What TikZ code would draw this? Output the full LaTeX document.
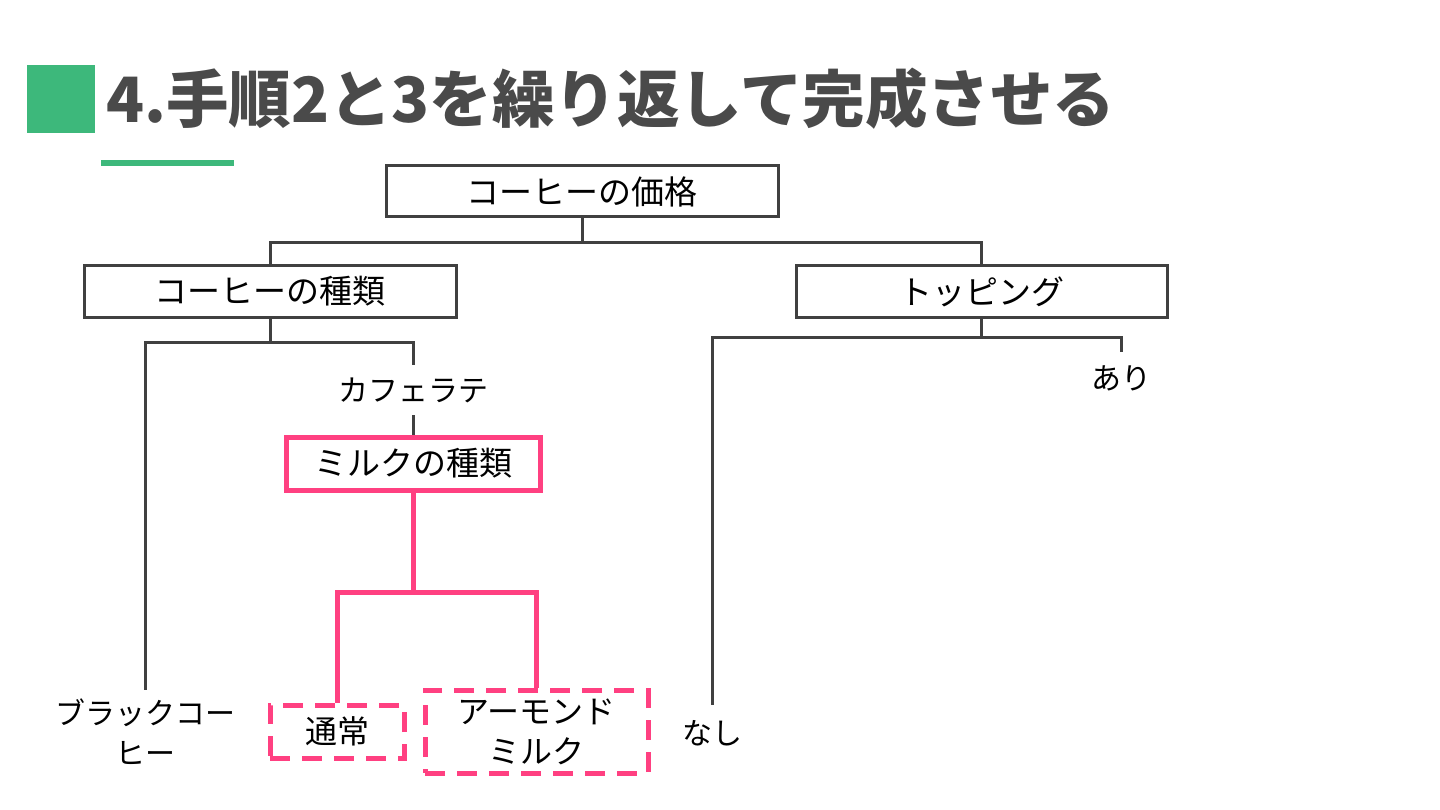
\documentclass[tikz,border=0pt]{standalone}
\usepackage{fontspec}
\setmainfont{Noto Sans CJK JP}
\definecolor{lgray}{HTML}{404040}
\definecolor{tgray}{HTML}{4A4A4A}
\definecolor{mpink}{HTML}{FF4081}
\definecolor{mgreen}{HTML}{3DB87B}
\tikzset{
  graybox/.style={draw=lgray,line width=3pt,rectangle,inner sep=0pt,font=\fontsize{33}{38}\selectfont,minimum height=51},
  pinkbox/.style={draw=mpink,line width=5pt,rectangle,inner sep=0pt,font=\fontsize{33}{38}\selectfont,minimum height=53},
  dashbox/.style={draw=mpink,line width=5pt,dash pattern=on 20pt off 12pt,rectangle,inner sep=0pt,font=\fontsize{32}{40}\selectfont,align=center},
  leaf/.style={inner sep=0pt,font=\fontsize{30}{40}\selectfont,align=center},
  gline/.style={draw=lgray,line width=3pt},
  pline/.style={draw=mpink,line width=5pt}
}
\begin{document}
\begin{tikzpicture}[x=1pt,y=-1pt]
\useasboundingbox[fill=white] (0,0) rectangle (1440,810);
% title
\fill[mgreen] (27,65) rectangle (95,133);
\fill[mgreen] (101,160) rectangle (234,166);
\node[anchor=west,inner sep=0pt,text=tgray,font=\fontsize{62.5}{70}\selectfont\bfseries] (title) at (106,99) {4.手順2と3を繰り返して完成させる};
% boxes
\node[graybox,minimum width=392] (top) at (582,191.5) {コーヒーの価格};
\node[graybox,minimum width=372] (kind) at (270,291.5) {コーヒーの種類};
\node[graybox,minimum width=371] (topping) at (981.5,291.5) {トッピング};
\node[leaf,minimum height=50] (cafe) at (413.5,390) {カフェラテ};
\node[pinkbox,minimum width=254] (milk) at (413.5,463.5) {ミルクの種類};
\node[leaf,minimum height=84] (black) at (145,732) {ブラックコー\\ヒー};
\node[dashbox,minimum width=134,minimum height=53] (normal) at (337,731.5) {通常};
\node[dashbox,minimum width=223,minimum height=83] (almond) at (536.5,731.5) {アーモンド\\ミルク};
\node[leaf,minimum height=56] (nashi) at (712,733) {なし};
\node[leaf,minimum height=52] (ari) at (1121,378) {あり};
% gray connectors
\draw[gline] (top.south) -- ++(0,24) coordinate (t1) -| (kind.north);
\draw[gline] (t1) -| (topping.north);
\draw[gline] (kind.south) -- ++(0,24) coordinate (k1) -| (black.north);
\draw[gline] (k1) -| (cafe.north);
\draw[gline] (cafe.south) -- (milk.north);
\draw[gline] (topping.south) -- ++(0,19) coordinate (p1) -| (nashi.north);
\draw[gline] (p1) -| (ari.north);
% pink connectors
\draw[pline] (milk.south) -- ++(0,100) coordinate (m1) -| (normal.north);
\draw[pline] (m1) -| (almond.north);
\end{tikzpicture}
\end{document}
